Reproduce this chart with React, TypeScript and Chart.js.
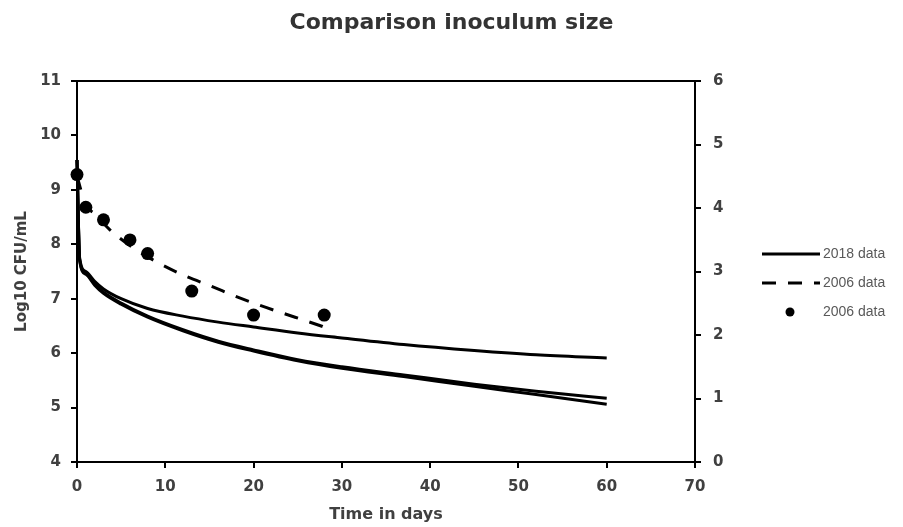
import React, { useEffect, useRef } from "react";
import { Chart, registerables } from "chart.js";

Chart.register(...registerables);

const TITLE = "Comparison inoculum size";
const X_TITLE = "Time in days";
const Y_TITLE = "Log10 CFU/mL";

// 2018 model curves (three inoculum sizes)
const curveDays = [0, 0.3, 1, 2, 3, 5, 8, 12, 16, 20, 25, 30, 37, 45, 52, 60];
const curveA = [9.55, 7.75, 7.5, 7.32, 7.18, 7.0, 6.82, 6.68, 6.57, 6.48, 6.37, 6.28, 6.16, 6.05, 5.97, 5.91];
const curveB = [9.55, 7.72, 7.47, 7.27, 7.12, 6.92, 6.68, 6.43, 6.22, 6.06, 5.88, 5.75, 5.6, 5.43, 5.3, 5.17];
const curveC = [9.55, 7.7, 7.45, 7.25, 7.1, 6.9, 6.66, 6.41, 6.2, 6.04, 5.86, 5.72, 5.57, 5.39, 5.24, 5.06];

// 2006 fitted (dashed) curve
const fitDays = [0, 1, 2, 3.7, 6.4, 9.2, 12.1, 15.2, 18.2, 21.4, 24.7, 28];
const fitValues = [9.25, 8.72, 8.56, 8.27, 7.93, 7.66, 7.43, 7.23, 7.03, 6.84, 6.66, 6.48];

// 2006 observed data points
const obsDays = [0, 1, 3, 6, 8, 13, 20, 28];
const obsValues = [9.28, 8.68, 8.45, 8.08, 7.83, 7.14, 6.7, 6.7];

const legendLabels = ["2018 data", "2006 data", "2006 data"];

const X_MIN = 0, X_MAX = 70, X_STEP = 10;
const YL_MIN = 4, YL_MAX = 11;
const YR_MIN = 0, YR_MAX = 6;

const TEXT = "#404040";
const TICK_FONT = { family: "'DejaVu Sans', sans-serif", size: 15, weight: "bold" as const };

const pts = (xs: number[], ys: number[]) => xs.map((x, i) => ({ x, y: ys[i] }));

const legendPlugin = {
  id: "customLegend",
  afterDraw(chart: any) {
    const ctx = chart.ctx;
    const area = chart.chartArea;
    const x0 = area.right + 67;
    const lineLen = 58;
    const rows = [254, 283, 312];
    const items = chart.data.datasets.filter((d: any) => d.legendIndex !== undefined);
    ctx.save();
    items.forEach((d: any) => {
      const y = rows[d.legendIndex];
      if (d.showLine === false) {
        ctx.beginPath();
        ctx.fillStyle = "#000";
        ctx.arc(x0 + 28, y, 4.5, 0, Math.PI * 2);
        ctx.fill();
      } else {
        ctx.beginPath();
        ctx.strokeStyle = "#000";
        ctx.lineWidth = 3;
        ctx.setLineDash(d.borderDash || []);
        ctx.moveTo(x0, y);
        ctx.lineTo(x0 + lineLen, y);
        ctx.stroke();
        ctx.setLineDash([]);
      }
      ctx.fillStyle = "#595959";
      ctx.font = "14px 'Liberation Sans', Arial, sans-serif";
      ctx.textBaseline = "middle";
      ctx.textAlign = "left";
      ctx.fillText(legendLabels[d.legendIndex], x0 + lineLen + 3, y);
    });
    ctx.restore();
  },
};

export default function App() {
  const ref = useRef<HTMLCanvasElement | null>(null);

  useEffect(() => {
    document.body.style.margin = "0";
    const canvas = ref.current;
    if (!canvas) return;
    const lineBase = {
      type: "line" as const,
      borderColor: "#000",
      backgroundColor: "#000",
      borderWidth: 3,
      pointRadius: 0,
      fill: false,
      cubicInterpolationMode: "monotone" as const,
      clip: false as any,
      xAxisID: "x",
      yAxisID: "y",
    };
    const chart = new Chart(canvas, {
      type: "line",
      data: {
        datasets: [
          { ...lineBase, label: legendLabels[0], data: pts(curveDays, curveA), legendIndex: 0 } as any,
          { ...lineBase, label: "2018 data b", data: pts(curveDays, curveB) } as any,
          { ...lineBase, label: "2018 data c", data: pts(curveDays, curveC) } as any,
          { ...lineBase, label: legendLabels[1], data: pts(fitDays, fitValues), borderDash: [14, 12], legendIndex: 1 } as any,
          {
            type: "line",
            label: legendLabels[2],
            data: pts(obsDays, obsValues),
            showLine: false,
            pointRadius: 6.5,
            pointBackgroundColor: "#000",
            pointBorderColor: "#000",
            pointBorderWidth: 0,
            clip: false as any,
            xAxisID: "x",
            yAxisID: "y",
            legendIndex: 2,
          } as any,
        ],
      },
      options: {
        animation: false,
        responsive: true,
        maintainAspectRatio: false,
        layout: { padding: 0 },
        plugins: {
          legend: { display: false },
          tooltip: { enabled: false },
          title: {
            display: true,
            text: TITLE,
            color: "#333333",
            font: { family: "'DejaVu Sans', sans-serif", size: 22, weight: "bold" },
            padding: { top: 10, bottom: 44.6 },
          },
        },
        scales: {
          x: {
            type: "linear",
            position: "bottom",
            min: X_MIN,
            max: X_MAX,
            ticks: { stepSize: X_STEP, color: TEXT, font: TICK_FONT, padding: 10, maxRotation: 0 },
            grid: { display: true, drawOnChartArea: false, drawTicks: true, tickLength: 6, color: "#000", lineWidth: 2 },
            border: { display: true, color: "#000", width: 2 },
            title: {
              display: true,
              text: X_TITLE,
              color: TEXT,
              font: { family: "'DejaVu Sans', sans-serif", size: 16, weight: "bold" },
              padding: { top: 0, bottom: 2.4 },
            },
            afterFit: (s: any) => { s.height = 65; },
          },
          xTop: {
            type: "linear",
            position: "top",
            display: true,
            min: X_MIN,
            max: X_MAX,
            ticks: { display: false },
            grid: { display: false, drawTicks: false },
            border: { display: true, color: "#000", width: 2 },
            afterFit: (s: any) => { s.height = 0; },
          },
          y: {
            type: "linear",
            position: "left",
            min: YL_MIN,
            max: YL_MAX,
            ticks: { stepSize: 1, color: TEXT, font: TICK_FONT, padding: 10 },
            grid: { display: true, drawOnChartArea: false, drawTicks: true, tickLength: 6, color: "#000", lineWidth: 2 },
            border: { display: true, color: "#000", width: 2 },
            title: {
              display: true,
              text: Y_TITLE,
              color: TEXT,
              font: { family: "'DejaVu Sans', sans-serif", size: 15, weight: "bold" },
              padding: { top: 13, bottom: 0 },
            },
            afterFit: (s: any) => { s.width = 77; },
          },
          y2: {
            type: "linear",
            position: "right",
            display: true,
            min: YR_MIN,
            max: YR_MAX,
            ticks: { stepSize: 1, color: TEXT, font: TICK_FONT, padding: 12 },
            grid: { display: true, drawOnChartArea: false, drawTicks: true, tickLength: 6, color: "#000", lineWidth: 2 },
            border: { display: true, color: "#000", width: 2 },
            afterFit: (s: any) => { s.width = 208; },
          },
        },
      } as any,
      plugins: [legendPlugin],
    });
    return () => chart.destroy();
  }, []);

  return (
    <div style={{ position: "fixed", left: 0, top: 0, width: 903, height: 527, background: "#fff" }}>
      <canvas ref={ref} />
    </div>
  );
}
